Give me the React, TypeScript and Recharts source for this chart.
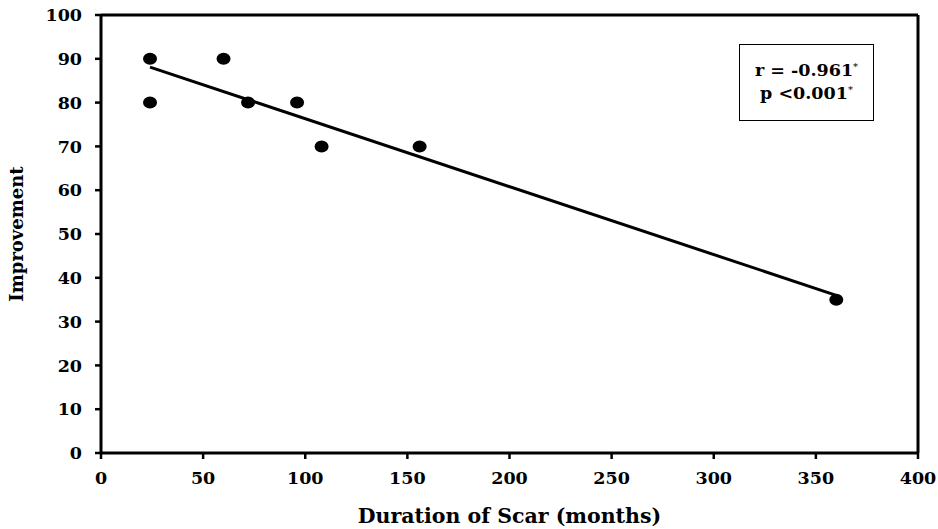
import React from "react";
import {
  ScatterChart,
  Scatter,
  XAxis,
  YAxis,
  ReferenceLine,
  Label,
} from "recharts";

const durationMonths = [24, 24, 60, 72, 96, 108, 156, 360];
const improvement = [90, 80, 90, 80, 80, 70, 70, 35];
const trendX = [24, 360];
const trendY = [88.1, 36.0];
const xTicks = [0, 50, 100, 150, 200, 250, 300, 350, 400];
const yTicks = [0, 10, 20, 30, 40, 50, 60, 70, 80, 90, 100];
const statLines = ["r = -0.961", "p <0.001"];

const points = durationMonths.map((x, i) => ({ x, y: improvement[i] }));

const FONT = "'DejaVu Serif', 'Liberation Serif', serif";

const Dot = (props: any) => {
  const { cx, cy } = props;
  if (cx == null || cy == null) return null;
  return <ellipse cx={cx} cy={cy} rx={7} ry={6} fill="#000" />;
};

export default function App() {
  return (
    <div style={{ position: "absolute", left: 0, top: 0, width: 938, height: 529, background: "#fff" }}>
      <ScatterChart
        width={938}
        height={529}
        margin={{ top: 15, right: 20, left: 41, bottom: 36 }}
      >
        <XAxis
          type="number"
          dataKey="x"
          domain={[0, 400]}
          ticks={xTicks}
          tickSize={6}
          tickMargin={13}
          height={40}
          axisLine={{ stroke: "#000", strokeWidth: 3 }}
          tickLine={{ stroke: "#000", strokeWidth: 2.5 }}
          tick={{ fill: "#000", fontSize: 17.5, fontWeight: "bold", fontFamily: FONT }}
          interval={0}
        >
          <Label
            value="Duration of Scar (months)"
            position="insideBottom"
            offset={-30}
            style={{ fill: "#000", fontSize: 20.5, fontWeight: "bold", fontFamily: FONT }}
          />
        </XAxis>
        <YAxis
          type="number"
          dataKey="y"
          domain={[0, 100]}
          ticks={yTicks}
          tickSize={6}
          tickMargin={13}
          width={60}
          axisLine={{ stroke: "#000", strokeWidth: 3 }}
          tickLine={{ stroke: "#000", strokeWidth: 2.5 }}
          tick={{ fill: "#000", fontSize: 17.5, fontWeight: "bold", fontFamily: FONT }}
          interval={0}
        >
          <Label
            value="Improvement"
            angle={-90}
            position="insideLeft"
            offset={-24}
            style={{ fill: "#000", fontSize: 18, fontWeight: "bold", fontFamily: FONT, textAnchor: "middle" }}
          />
        </YAxis>
        <ReferenceLine y={100} stroke="#000" strokeWidth={3} />
        <ReferenceLine x={400} stroke="#000" strokeWidth={3} />
        <ReferenceLine
          segment={[
            { x: trendX[0], y: trendY[0] },
            { x: trendX[1], y: trendY[1] },
          ]}
          stroke="#000"
          strokeWidth={3}
        />
        <Scatter data={points} fill="#000" shape={<Dot />} isAnimationActive={false} />
      </ScatterChart>
      <div
        style={{
          position: "absolute",
          left: 739,
          top: 44,
          width: 135,
          height: 77,
          boxSizing: "border-box",
          border: "1.5px solid #000",
          background: "#fff",
          display: "flex",
          flexDirection: "column",
          justifyContent: "center",
          alignItems: "center",
          fontFamily: FONT,
          fontWeight: "bold",
          fontSize: 17.5,
          lineHeight: "21px",
          color: "#000",
        }}
      >
        {statLines.map((s) => (
          <div key={s} style={{ whiteSpace: "nowrap" }}>
            {s}
            <span style={{ fontSize: 10, fontWeight: "normal", position: "relative", top: -6 }}>*</span>
          </div>
        ))}
      </div>
    </div>
  );
}
